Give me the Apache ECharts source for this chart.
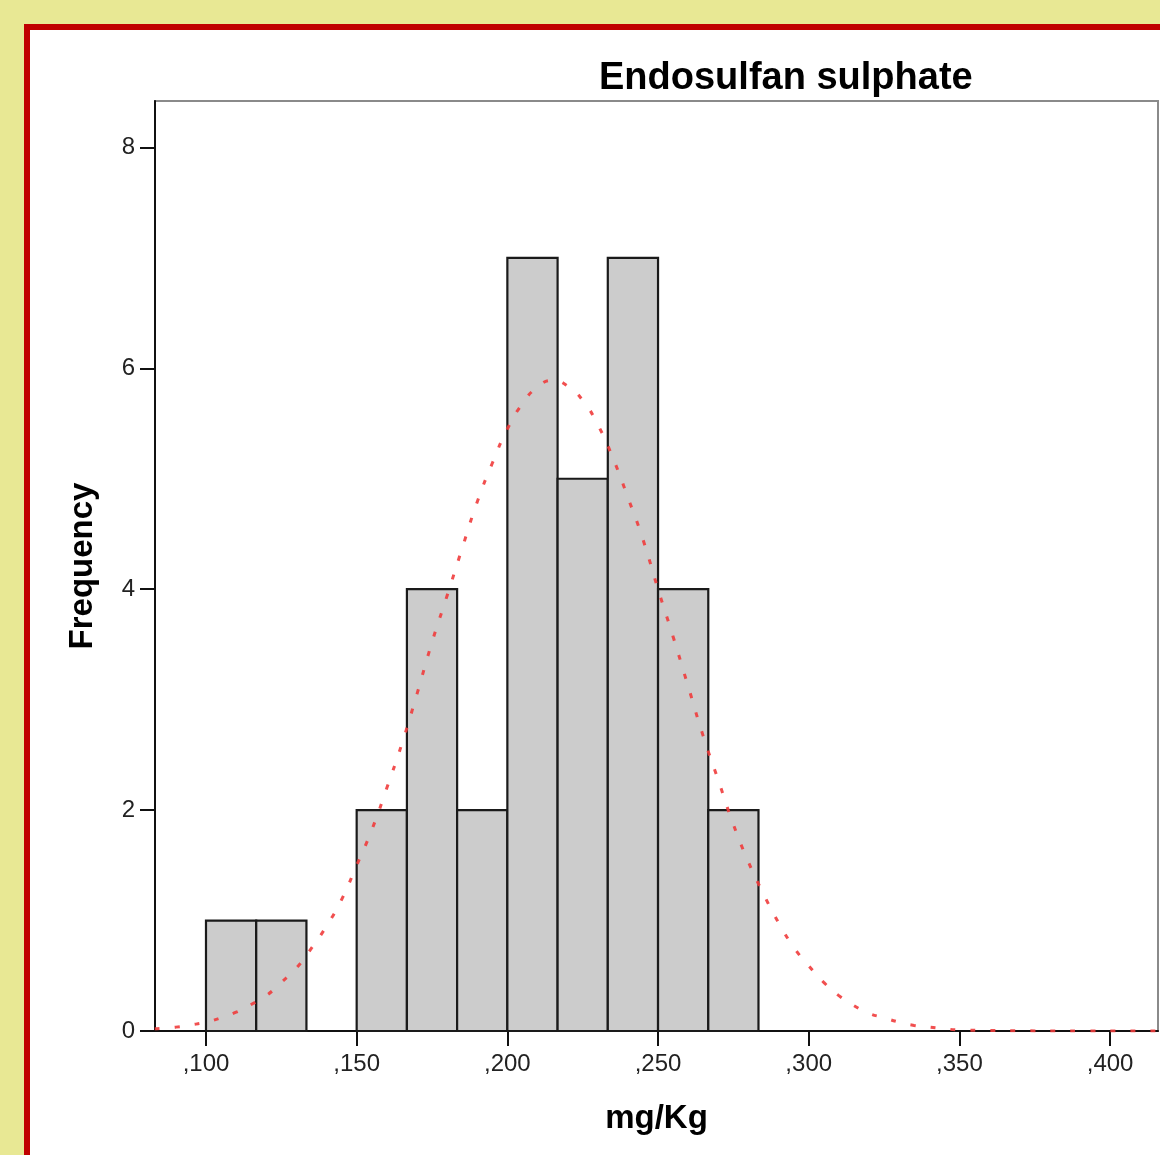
<!DOCTYPE html>
<html>
<head>
<meta charset="utf-8">
<script src="https://cdn.jsdelivr.net/npm/echarts@6/dist/echarts.min.js"></script>
<style>
  html, body { margin: 0; padding: 0; background: #e8e894; }
  #frame {
    position: absolute; left: 24px; top: 24px; width: 1200px; height: 1200px;
    border-left: 6px solid #c00000; border-top: 6px solid #c00000; background: #ffffff;
  }
  #chart { position: absolute; left: 0; top: 0; width: 1160px; height: 1155px; }
</style>
</head>
<body>
<div id="frame"></div>
<div id="chart"></div>
<script>
// histogram bins (mg/Kg) and counts
const binEdges = [100, 116.67, 133.33, 150, 166.67, 183.33, 200, 216.67, 233.33, 250, 266.67, 283.33];
const counts = [1, 1, 0, 2, 4, 2, 7, 5, 7, 4, 2];

// fitted normal curve
const curveX = [83, 90, 95, 100, 105, 110, 115, 120, 125, 130, 135, 140, 145, 150, 155, 160, 165, 170, 175,
  180, 185, 190, 195, 200, 205, 210, 215, 220, 225, 230, 235, 240, 245, 250, 255, 260, 265, 270, 275,
  280, 285, 290, 295, 300, 305, 310, 315, 320, 325, 330, 335, 340, 345, 350, 360, 370, 390, 416];
const curveY = [0.02, 0.035, 0.055, 0.08, 0.12, 0.17, 0.24, 0.32, 0.44, 0.57, 0.75, 0.95, 1.19, 1.5, 1.82,
  2.2, 2.6, 3.05, 3.52, 3.94, 4.37, 4.79, 5.14, 5.45, 5.68, 5.83, 5.89, 5.84, 5.71, 5.49, 5.19, 4.83,
  4.45, 4.0, 3.57, 3.12, 2.67, 2.27, 1.87, 1.53, 1.24, 0.98, 0.76, 0.59, 0.44, 0.32, 0.23, 0.16, 0.12,
  0.08, 0.05, 0.035, 0.02, 0.01, 0.005, 0.002, 0, 0];

const xTicks = [100, 150, 200, 250, 300, 350, 400];
const yTicks = [0, 2, 4, 6, 8];

const font = "'Liberation Sans', Arial, sans-serif";

const bars = counts.map((c, i) => [binEdges[i], binEdges[i + 1], c]);
const curve = curveX.map((x, i) => [x, curveY[i]]);

const chart = echarts.init(document.getElementById("chart"));

chart.setOption({
    animation: false,
    title: {
        text: "Endosulfan sulphate",
        left: 594,
        top: 55,
        textStyle: { fontFamily: font, fontSize: 38, fontWeight: "bold", color: "#000" },
    },
    grid: {
        left: 155, top: 101, right: 2, bottom: 124,
        show: true, borderColor: "#8a8a8a", borderWidth: 2, backgroundColor: "transparent",
    },
    xAxis: {
        type: "value",
        min: 83.08,
        max: 415.9,
        name: "mg/Kg",
        nameLocation: "middle",
        nameGap: 71,
        nameTextStyle: { fontFamily: font, fontSize: 33, fontWeight: "bold", color: "#000" },
        axisLine: { lineStyle: { color: "#111", width: 2 } },
        axisTick: { length: 15, lineStyle: { color: "#111", width: 2 }, customValues: xTicks },
        axisLabel: {
            customValues: xTicks,
            margin: 21,
            fontFamily: font, fontSize: 24, color: "#222",
            formatter: (v) => "," + v,
        },
        splitLine: { show: false },
    },
    yAxis: {
        type: "value",
        min: 0,
        max: 8.42,
        name: "Frequency",
        nameLocation: "middle",
        nameGap: 56,
        nameTextStyle: { fontFamily: font, fontSize: 33, fontWeight: "bold", color: "#000" },
        axisLine: { show: true, lineStyle: { color: "#111", width: 2 } },
        axisTick: { show: true, length: 15, lineStyle: { color: "#111", width: 2 }, customValues: yTicks },
        axisLabel: { customValues: yTicks, margin: 20, fontFamily: font, fontSize: 24, color: "#222" },
        splitLine: { show: false },
    },
    series: [
        {
            type: "custom",
            data: bars,
            encode: { x: [0, 1], y: 2 },
            renderItem: (params, api) => {
                const p0 = api.coord([api.value(0), api.value(2)]);
                const p1 = api.coord([api.value(1), 0]);
                if (api.value(2) === 0) return null;
                return {
                    type: "rect",
                    shape: { x: p0[0], y: p0[1], width: p1[0] - p0[0], height: p1[1] - p0[1] },
                    style: { fill: "#cccccc", stroke: "#1a1a1a", lineWidth: 2.2 },
                };
            },
            z: 2,
        },
        {
            type: "line",
            data: curve,
            smooth: true,
            symbol: "none",
            clip: true,
            lineStyle: { color: "#f03c3c", width: 3, type: [5, 15], opacity: 0.9 },
            z: 3,
        },
    ],
});
</script>
</body>
</html>
